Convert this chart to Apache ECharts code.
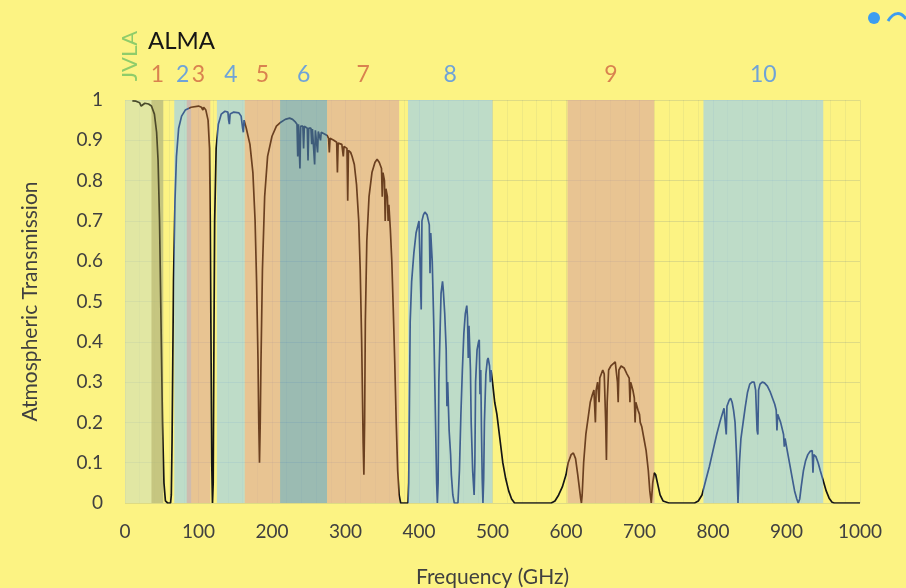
<!DOCTYPE html>
<html style="height: 100%">

<head>
    <meta charset="utf-8">
</head>

<body style="height: 100%; margin: 0; background: #fcf383">
    <div id="container" style="width: 906px; height: 588px"></div>
    <script type="text/javascript" src="https://cdn.jsdelivr.net/npm/echarts@6/dist/echarts.min.js"></script>
    <script type="text/javascript">

        // transmission curve (GHz, fraction)
        var freq = [10, 15, 20, 22, 23, 24, 27, 32, 36, 40, 43, 45, 47, 49, 51, 53, 55, 58, 62, 63, 64, 65, 66, 68, 70, 73, 77, 82, 90,
            100, 104, 106, 107, 110, 113, 115, 116, 117, 118, 119, 120, 121, 122, 124, 127, 131, 136, 140, 141, 142, 143, 148,
            155, 158, 160, 161, 162, 165, 170, 174, 177, 179, 181, 182, 183, 184, 185, 187, 190, 194, 200, 206, 212, 218, 224,
            228, 232, 234, 235, 236, 237, 238, 239, 242, 243, 244, 248, 249, 250, 253, 254, 255, 257, 258, 259, 261, 262, 263,
            265, 266, 267, 272, 275, 277, 278, 279, 284, 288, 289, 290, 295, 297, 298, 302, 303, 304, 307, 309, 310, 312, 315,
            318, 320, 322, 324, 325, 326, 327, 329, 332, 336, 340, 343, 346, 349, 350, 351, 353, 354, 355, 357, 358, 359, 361,
            363, 365, 367, 369, 371, 373, 375, 385, 386, 387, 388, 390, 393, 396, 400, 403, 404, 406, 408, 411, 414, 415, 416,
            418, 420, 422, 424, 425, 426, 427, 429, 430, 432, 433, 435, 437, 438, 439, 441, 443, 444, 446, 448, 453, 455, 457,
            459, 461, 463, 465, 466, 467, 468, 470, 471, 472, 473, 475, 476, 477, 479, 481, 482, 483, 484, 485, 486, 487, 488,
            489, 491, 493, 494, 496, 497, 498, 500, 503, 506, 510, 514, 518, 522, 526, 530, 580, 585, 590, 595, 600, 603, 607,
            610, 613, 616, 618, 620, 621, 622, 624, 627, 630, 633, 636, 638, 640, 641, 643, 645, 646, 648, 650, 652, 654, 655,
            656, 658, 661, 664, 667, 669, 670, 671, 672, 675, 679, 683, 686, 687, 688, 691, 693, 694, 695, 698, 700, 701, 703,
            706, 709, 712, 714, 716, 718, 720, 722, 725, 728, 732, 740, 775, 780, 785, 790, 795, 800, 805, 810, 815, 818, 819,
            822, 824, 826, 828, 830, 832, 834, 836, 838, 841, 844, 847, 850, 853, 856, 858, 860, 861, 862, 864, 867, 870, 874,
            878, 881, 884, 886, 887, 888, 892, 896, 897, 898, 901, 904, 908, 911, 914, 916, 918, 920, 923, 926, 929, 932, 935,
            936, 937, 940, 943, 946, 950, 954, 958, 962, 965, 1000];
        var trans = [0.998, 0.997, 0.993, 0.985, 0.982, 0.987, 0.992, 0.99, 0.985, 0.965, 0.92, 0.85, 0.7, 0.45, 0.2, 0.05, 0.005, 0, 0, 0.02, 0.15, 0.35, 0.55, 0.75, 0.86, 0.93, 0.96, 0.975, 0.982,
            0.985, 0.982, 0.975, 0.982, 0.975, 0.95, 0.88, 0.7, 0.4, 0.1, 0, 0.05, 0.4, 0.7, 0.88, 0.94, 0.965, 0.972, 0.97, 0.95, 0.94, 0.965, 0.97,
            0.968, 0.96, 0.93, 0.92, 0.95, 0.93, 0.89, 0.82, 0.7, 0.55, 0.35, 0.2, 0.1, 0.2, 0.35, 0.58, 0.76, 0.86, 0.91, 0.935, 0.945, 0.952, 0.955,
            0.952, 0.945, 0.94, 0.86, 0.94, 0.94, 0.83, 0.935, 0.935, 0.88, 0.935, 0.93, 0.85, 0.93, 0.93, 0.89, 0.928, 0.925, 0.84, 0.925, 0.925, 0.87, 0.922,
            0.92, 0.9, 0.92, 0.915, 0.912, 0.905, 0.87, 0.905, 0.9, 0.895, 0.82, 0.893, 0.89, 0.86, 0.885, 0.88, 0.75, 0.875, 0.87, 0.86, 0.86, 0.84, 0.79,
            0.7, 0.58, 0.4, 0.15, 0.07, 0.2, 0.45, 0.65, 0.76, 0.82, 0.845, 0.853, 0.845, 0.83, 0.76, 0.82, 0.8, 0.7, 0.78, 0.76, 0.7, 0.74, 0.68,
            0.6, 0.48, 0.35, 0.2, 0.08, 0.02, 0, 0, 0.05, 0.25, 0.45, 0.55, 0.62, 0.67, 0.7, 0.48, 0.7, 0.715, 0.722, 0.715, 0.69, 0.57, 0.67,
            0.6, 0.45, 0.25, 0.05, 0, 0.05, 0.3, 0.45, 0.52, 0.55, 0.53, 0.47, 0.38, 0.24, 0.3, 0.18, 0.12, 0.07, 0.02, 0, 0, 0.08, 0.22,
            0.33, 0.42, 0.47, 0.49, 0.46, 0.36, 0.44, 0.33, 0.2, 0.14, 0.08, 0.02, 0.1, 0.3, 0.38, 0.4, 0.405, 0.27, 0.33, 0.18, 0.06, 0, 0.06,
            0.2, 0.32, 0.355, 0.36, 0.34, 0.3, 0.33, 0.3, 0.25, 0.22, 0.16, 0.1, 0.06, 0.03, 0.01, 0, 0, 0.005, 0.02, 0.04, 0.07, 0.1, 0.12,
            0.124, 0.11, 0.07, 0.04, 0.01, 0, 0.02, 0.1, 0.17, 0.21, 0.25, 0.27, 0.28, 0.2, 0.28, 0.3, 0.25, 0.31, 0.32, 0.33, 0.32, 0.2, 0.107,
            0.25, 0.33, 0.34, 0.345, 0.35, 0.35, 0.3, 0.25, 0.33, 0.34, 0.335, 0.32, 0.31, 0.25, 0.3, 0.28, 0.26, 0.2, 0.25, 0.23, 0.22, 0.2, 0.19,
            0.16, 0.13, 0.08, 0.03, 0, 0.05, 0.075, 0.07, 0.045, 0.02, 0.005, 0, 0, 0.005, 0.02, 0.055, 0.09, 0.13, 0.17, 0.205, 0.235, 0.17, 0.24,
            0.255, 0.26, 0.25, 0.23, 0.2, 0.12, 0, 0.1, 0.16, 0.2, 0.24, 0.275, 0.295, 0.3, 0.3, 0.28, 0.18, 0.17, 0.28, 0.295, 0.3, 0.298, 0.29,
            0.275, 0.26, 0.245, 0.23, 0.18, 0.22, 0.2, 0.17, 0.14, 0.16, 0.13, 0.1, 0.06, 0.03, 0.01, 0, 0.01, 0.04, 0.08, 0.105, 0.12, 0.128, 0.13,
            0.075, 0.12, 0.115, 0.1, 0.08, 0.055, 0.03, 0.012, 0.002, 0, 0];

        // receiver bands (GHz)
        var jvlaRange = [0, 52];
        var bandNames = ['1', '2', '3', '4', '5', '6', '7', '8', '9', '10'];
        var bandLow = [36, 67, 84, 125, 163, 211, 275, 385, 602, 787];
        var bandHigh = [52, 90, 116, 163, 211, 275, 373, 500, 720, 950];

        var BLUE = 'rgba(149,205,247,0.6)';
        var ORANGE = 'rgba(219,165,157,0.6)';
        var bandFill = ['rgba(180,176,105,0.6)', BLUE, ORANGE, BLUE, ORANGE, 'rgba(90,150,210,0.6)', ORANGE, BLUE, ORANGE, BLUE];
        var bandText = ['#d9824f', '#6fa3d8', '#d9824f', '#6fa3d8', '#d9824f', '#6fa3d8', '#d9824f', '#6fa3d8', '#d9824f', '#6fa3d8'];
        var bandLine = ['#4d4a2a', '#3f5f8f', '#6b4020', '#3f5f8f', '#6b4020', '#3e5c7a', '#6b4020', '#3f5f8f', '#6b4020', '#3f5f8f'];

        var curve = freq.map(function (f, i) { return [f, trans[i]]; });

        var areas = [[{ xAxis: jvlaRange[0], itemStyle: { color: 'rgba(207,223,185,0.6)' } }, { xAxis: jvlaRange[1] }]];
        for (var i = 0; i < bandNames.length; i++) {
            areas.push([{
                name: bandNames[i],
                xAxis: bandLow[i],
                itemStyle: { color: bandFill[i] },
                label: { color: bandText[i] }
            }, { xAxis: bandHigh[i] }]);
        }

        // line colour follows the band it sits in
        var pieces = [{ lt: bandLow[0], color: '#4a4c2c' }];
        for (var i = 0; i < bandNames.length; i++) {
            var lo = bandLow[i];
            if (i == 2) lo = 87;
            var hi = bandHigh[i];
            if (i == 1) hi = 87;
            pieces.push({ gte: lo, lt: hi, color: bandLine[i] });
        }

        var dom = document.getElementById("container");
        var myChart = echarts.init(dom);
        var font = 'Lato';

        var option = {
            backgroundColor: '#fcf383',
            animation: false,
            grid: { left: 125, right: 46, top: 100, bottom: 85, outerBoundsMode: 'none' },
            xAxis: {
                type: 'value',
                min: 0,
                max: 1000,
                interval: 100,
                name: 'Frequency (GHz)',
                nameLocation: 'middle',
                nameGap: 64,
                nameTextStyle: { fontFamily: font, fontSize: 21, color: '#404040' },
                axisLine: { show: false },
                axisTick: { show: false },
                axisLabel: {
                    fontFamily: font, fontSize: 19, color: '#404040', margin: 19,
                    formatter: function (v) { return String(v); }
                },
                splitLine: { show: true, lineStyle: { color: 'rgba(90,110,140,0.12)' } },
                minorTick: { show: false, splitNumber: 5 },
                minorSplitLine: { show: true, lineStyle: { color: 'rgba(90,110,140,0.08)' } }
            },
            yAxis: {
                type: 'value',
                min: 0,
                max: 1,
                interval: 0.1,
                name: 'Atmospheric Transmission',
                nameLocation: 'middle',
                nameGap: 84,
                nameTextStyle: { fontFamily: font, fontSize: 21, color: '#404040' },
                axisLine: { show: false },
                axisTick: { show: false },
                axisLabel: { fontFamily: font, fontSize: 19, color: '#404040', margin: 22 },
                splitLine: { show: true, lineStyle: { color: 'rgba(90,110,140,0.18)' } }
            },
            visualMap: {
                show: false,
                type: 'piecewise',
                dimension: 0,
                seriesIndex: 1,
                pieces: pieces,
                outOfRange: { color: '#151515' }
            },
            series: [
                {
                    type: 'line',
                    data: [],
                    silent: true,
                    markArea: {
                        silent: true,
                        label: { show: true, position: 'top', distance: 14, fontFamily: font, fontSize: 23 },
                        data: areas
                    }
                },
                {
                    type: 'line',
                    data: curve,
                    symbol: 'none',
                    z: 5,
                    lineStyle: { width: 1.7 }
                }
            ],
            graphic: [
                {
                    type: 'text', x: 130, y: 56, rotation: Math.PI / 2,
                    style: { text: 'JVLA', fill: '#8fcc6a', font: '22px Lato', textAlign: 'center', textVerticalAlign: 'middle' }
                },
                {
                    type: 'text', x: 148, y: 41,
                    style: { text: 'ALMA', fill: '#151515', font: '24px Lato', textAlign: 'left', textVerticalAlign: 'middle' }
                },
                {
                    type: 'circle', shape: { cx: 874, cy: 18, r: 6 },
                    style: { fill: '#3d9df0' }
                },
                {
                    type: 'bezierCurve',
                    shape: { x1: 888, y1: 21, cpx1: 894, cpy1: 11, cpx2: 901, cpy2: 12, x2: 906, y2: 19 },
                    style: { stroke: '#3d9df0', lineWidth: 3, fill: null }
                }
            ]
        };

        myChart.setOption(option);
    </script>
</body>

</html>
